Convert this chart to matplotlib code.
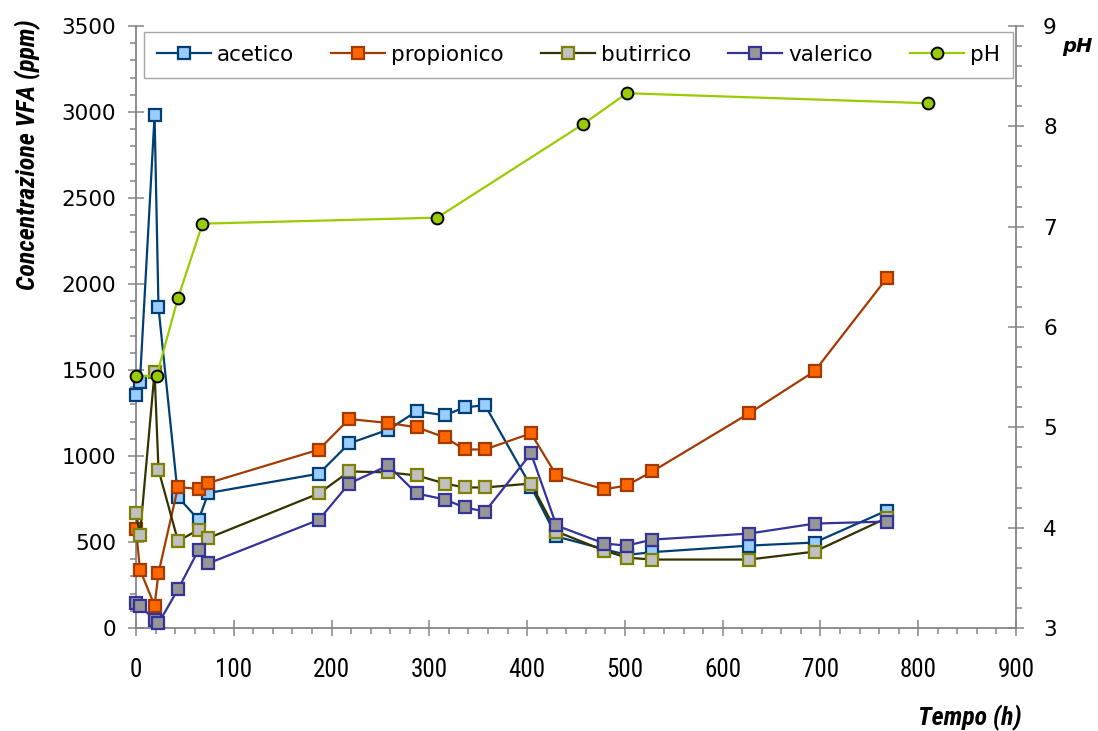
import matplotlib
matplotlib.use("Agg")
import matplotlib.pyplot as plt
import matplotlib.font_manager as fm
from matplotlib.ticker import MultipleLocator

# ---------------- data ----------------
tempo_vfa = [0, 4, 19, 23, 43, 64, 74, 187, 218, 258, 287, 316, 336, 357,
             404, 430, 479, 502, 528, 627, 694, 768]
acetico = [1353, 1431, 2980, 1865, 761, 629, 785, 897, 1073, 1153, 1260, 1237,
           1283, 1295, 822, 532, 458, 425, 441, 479, 497, 683]
propionico = [575, 340, 130, 320, 820, 808, 843, 1037, 1215, 1192, 1167, 1108,
              1038, 1038, 1132, 887, 806, 829, 910, 1248, 1493, 2035]
butirrico = [670, 538, 1490, 920, 505, 572, 523, 782, 910, 905, 887, 840,
             817, 817, 840, 561, 450, 409, 398, 398, 444, 640]
valerico = [144, 130, 47, 28, 225, 454, 376, 629, 840, 945, 782, 747,
            701, 677, 1015, 596, 491, 479, 514, 549, 607, 619]

tempo_ph = [0, 21, 43, 68, 308, 457, 502, 810]
ph = [5.51, 5.51, 6.29, 7.03, 7.09, 8.02, 8.33, 8.23]

x_ticks = list(range(0, 1000, 100))
y_ticks = list(range(0, 4000, 500))
ph_ticks = [3, 4, 5, 6, 7, 8, 9]

# ---------------- fonts ----------------
avail = {f.name for f in fm.fontManager.ttflist}
def pick(cands, default="DejaVu Sans"):
    for c in cands:
        if c in avail:
            return c
    return default

narrow = pick(["Liberation Sans Narrow", "Roboto Condensed", "Open Sans Condensed"])
wide = "DejaVu Sans"

W, H = 1098, 731
fig = plt.figure(figsize=(W / 100, H / 100), dpi=100)
x0, x1, y0, y1 = 136, 1016, 628, 26
ax = fig.add_axes([x0 / W, 1 - y0 / H, (x1 - x0) / W, (y0 - y1) / H])
ax2 = ax.twinx()

gray = "#868686"

series = [
    ("acetico", acetico, "#003E74", "#99CCFF", "#003E74"),
    ("propionico", propionico, "#A33A00", "#FF6600", "#A33A00"),
    ("butirrico", butirrico, "#333300", "#C0C0C0", "#808000"),
    ("valerico", valerico, "#333399", "#969696", "#333399"),
]
handles = []
for name, vals, lc, fc, ec in series:
    h, = ax.plot(tempo_vfa, vals, color=lc, lw=1.6, marker="s", ms=8,
                 mfc=fc, mec=ec, mew=1.6, label=name, clip_on=False, zorder=3)
    handles.append(h)

hp, = ax2.plot(tempo_ph, ph, color="#99CC00", lw=1.6, marker="o", ms=8.5,
               mfc="#99CC00", mec="black", mew=1.4, label="pH", clip_on=False, zorder=3)
handles.append(hp)

ax.set_xlim(0, 900)
ax.set_ylim(0, 3500)
ax2.set_ylim(3, 9)

ax.set_xticks(x_ticks)
ax.set_yticks(y_ticks)
ax2.set_yticks(ph_ticks)
ax.xaxis.set_minor_locator(MultipleLocator(20))
ax.yaxis.set_minor_locator(MultipleLocator(100))
ax2.yaxis.set_minor_locator(MultipleLocator(0.2))

for a in (ax, ax2):
    a.spines["top"].set_visible(False)
    for s in a.spines.values():
        s.set_color(gray)
        s.set_linewidth(1.3)
ax.spines["right"].set_visible(False)
ax2.spines["left"].set_visible(False)
ax2.spines["bottom"].set_visible(False)

ax.tick_params(axis="both", which="major", direction="inout", length=11,
               width=1.1, color=gray)
ax.tick_params(axis="both", which="minor", direction="out", length=4.5,
               width=1.1, color=gray)
ax2.tick_params(axis="y", which="major", direction="inout", length=11,
                width=1.1, color=gray)
ax2.tick_params(axis="y", which="minor", direction="out", length=4.5,
                width=1.1, color=gray)
ax.tick_params(axis="x", which="major", pad=16)
ax.tick_params(axis="y", which="major", pad=9)
ax2.tick_params(axis="y", which="major", pad=14)

for lab in ax.get_yticklabels():
    lab.set_fontfamily(wide)
    lab.set_fontsize(15.5)
for lab in ax2.get_yticklabels():
    lab.set_fontfamily(wide)
    lab.set_fontsize(15.5)
for lab in ax.get_xticklabels():
    lab.set_fontfamily(narrow)
    lab.set_fontsize(18)

# axis titles
ylab = fig.text(28 / W, 1 - 155 / H, "Concentrazione VFA (ppm)", rotation=90,
                ha="center", va="center", fontweight="bold", fontstyle="italic",
                family=narrow, fontsize=15)
xlab = fig.text(1022 / W, 1 - 718 / H, "Tempo (h)", ha="right", va="center",
                fontweight="bold", fontstyle="italic", family=narrow, fontsize=15)
phlab = fig.text(1077 / W, 1 - 46 / H, "pH", ha="center", va="center",
                 fontweight="bold", fontstyle="italic", family=wide, fontsize=14)

leg = ax2.legend(handles=handles, ncol=5, loc="upper left", mode="expand",
                 bbox_to_anchor=(144 / W, 1 - 77 / H, 869 / W, 45 / H),
                 bbox_transform=fig.transFigure, borderaxespad=0,
                 prop={"family": wide, "size": 15.5}, handlelength=2.5,
                 handletextpad=0.3, columnspacing=1.4, borderpad=0.6,
                 fancybox=False, framealpha=1, edgecolor="#A6A6A6")
leg.get_frame().set_linewidth(1.0)
leg.set_zorder(10)

# fit axis-title sizes to reference extents
fig.canvas.draw()
r = fig.canvas.get_renderer()
bb = ylab.get_window_extent(r)
ylab.set_fontsize(15 * 272 / bb.height)
bb = xlab.get_window_extent(r)
xlab.set_fontsize(15 * 104 / bb.width)

fig.savefig("out.png", dpi=100, facecolor="white")
